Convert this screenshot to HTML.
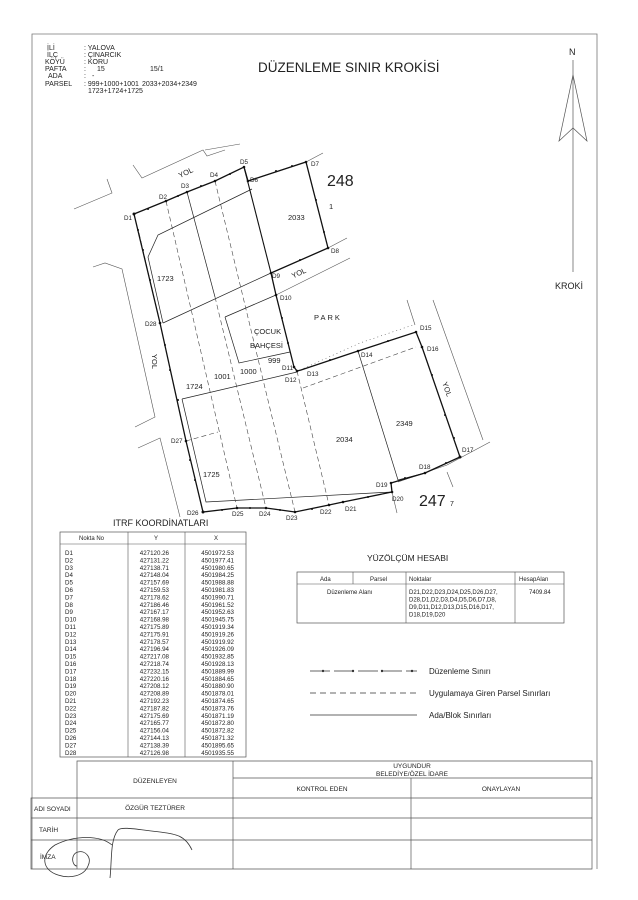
<!DOCTYPE html>
<html><head><meta charset="utf-8"><style>
html,body{margin:0;padding:0;background:#fff}
svg{display:block}
text{font-family:"Liberation Sans",sans-serif;fill:#222}
</style></head><body>
<svg width="638" height="900" viewBox="0 0 638 900" xmlns="http://www.w3.org/2000/svg">
<rect x="0" y="0" width="638" height="900" fill="#fff"/>
<polyline points="32,869 32,34 597,34 597,869" fill="none" stroke="#777" stroke-width="0.8"/>

<g font-size="7">
<text x="47" y="50">İLİ</text><text x="84" y="50">: YALOVA</text>
<text x="47" y="57">İLÇ</text><text x="84" y="57">: ÇINARCIK</text>
<text x="45" y="64">KÖYÜ</text><text x="84" y="64">: KORU</text>
<text x="45" y="71">PAFTA</text><text x="84" y="71">:</text><text x="97" y="71">15</text><text x="150" y="71">15/1</text>
<text x="48" y="78">ADA</text><text x="84" y="78">:</text><text x="92" y="78">-</text>
<text x="45" y="86">PARSEL</text><text x="84" y="86">: 999+1000+1001</text><text x="142" y="86">2033+2034+2349</text>
<text x="88" y="93">1723+1724+1725</text>
</g>
<text x="258" y="72" font-size="13.5">DÜZENLEME SINIR KROKİSİ</text>

<text x="569" y="55" font-size="9">N</text>
<line x1="573" y1="60" x2="573" y2="272" stroke="#555" stroke-width="0.7"/>
<polygon points="573,75 559,141 573,128 587,141" fill="none" stroke="#555" stroke-width="0.7"/>
<text x="555" y="289" font-size="9">KROKİ</text>

<g fill="none" stroke="#555" stroke-width="0.6">
<polyline points="133,165 142,178 203,150 207,156 225,150"/>
<polyline points="205,150 240,144"/>
<polyline points="306,162 323,153"/>
<polyline points="74,209 112,193 107,179"/>
<polyline points="93,267 105,263 122,269 155,417 135,427"/>
<polyline points="138,448 160,438 180,517"/>
<polyline points="328,248 347,238"/>
<polyline points="276,295 350,258"/>
<polyline points="407,300 415,325"/>
<polyline points="433,300 483,440"/>
<polyline points="398,482 447,465 490,442"/>
<polyline points="447,472 453,487"/>
<polyline points="392,492 397,513"/>
<polyline points="300,370 360,343 413,325" stroke-dasharray="1,3"/>
</g>

<g fill="none" stroke="#222" stroke-width="0.7">
<polyline points="252,189 158,235 148,257 163,323"/>
<polyline points="163,323 271,273 328,248"/>
<polyline points="248,181 306,162"/>
<polyline points="225,317 276,295"/>
<polyline points="225,317 239,363 290,352"/>
<polyline points="182,399 297,372"/>
<polyline points="182,399 206,502 392,492"/>
<polyline points="358,351 398,480 425,473"/>
<polyline points="187,192 215,297"/>
</g>
<g fill="none" stroke="#444" stroke-width="0.6" stroke-dasharray="5,3">
<line x1="166" y1="201" x2="237" y2="508"/>
<line x1="215" y1="297" x2="266" y2="508"/>
<line x1="215" y1="181" x2="295" y2="512"/>
<line x1="297" y1="371" x2="329" y2="505"/>
<line x1="303" y1="388" x2="416" y2="347"/>
<line x1="186" y1="441" x2="218" y2="432"/>
<line x1="139" y1="233" x2="160" y2="323"/>
</g>

<polygon points="134,214 166,201 187,192 215,181 244,167 248,181 306,162 328,248 271,273 276,295 294,367 297,371 301,370 358,351 416,332 422,347 460,457 425,473 391,483 392,492 343,502 329,505 295,512 266,508 237,508 203,512 186,441 160,323" fill="none" stroke="#111" stroke-width="1.3"/>
<line x1="244" y1="167" x2="271" y2="273" stroke="#111" stroke-width="1.1"/>
<g fill="#111">
<circle cx="134" cy="214" r="1.5"/><circle cx="166" cy="201" r="1.3"/><circle cx="187" cy="192" r="1.3"/><circle cx="215" cy="181" r="1.3"/><circle cx="244" cy="167" r="1.3"/><circle cx="248" cy="181" r="1.3"/><circle cx="306" cy="162" r="1.3"/><circle cx="328" cy="248" r="1.3"/><circle cx="271" cy="273" r="1.3"/><circle cx="276" cy="295" r="1.3"/><circle cx="294" cy="367" r="1.3"/><circle cx="297" cy="371" r="1.3"/><circle cx="358" cy="351" r="1.3"/><circle cx="416" cy="332" r="1.3"/><circle cx="422" cy="347" r="1.3"/><circle cx="460" cy="457" r="1.5"/><circle cx="425" cy="473" r="1.3"/><circle cx="391" cy="483" r="1.3"/><circle cx="392" cy="492" r="1.3"/><circle cx="343" cy="502" r="1.3"/><circle cx="329" cy="505" r="1.3"/><circle cx="295" cy="512" r="1.3"/><circle cx="266" cy="508" r="1.3"/><circle cx="237" cy="508" r="1.3"/><circle cx="203" cy="512" r="1.5"/><circle cx="186" cy="441" r="1.3"/><circle cx="160" cy="323" r="1.3"/>
<circle cx="148" cy="209" r="1"/><circle cx="178" cy="196" r="1"/><circle cx="201" cy="186" r="1"/><circle cx="230" cy="174" r="1"/><circle cx="276" cy="171" r="1"/><circle cx="292" cy="166" r="1"/><circle cx="316" cy="200" r="1"/><circle cx="324" cy="232" r="1"/><circle cx="300" cy="260" r="1"/><circle cx="282" cy="318" r="1"/><circle cx="288" cy="343" r="1"/><circle cx="330" cy="360" r="1"/><circle cx="388" cy="341" r="1"/><circle cx="432" cy="375" r="1"/><circle cx="445" cy="415" r="1"/><circle cx="454" cy="438" r="1"/><circle cx="446" cy="463" r="1"/><circle cx="405" cy="478" r="1"/><circle cx="368" cy="497" r="1"/><circle cx="312" cy="509" r="1"/><circle cx="280" cy="510" r="1"/><circle cx="250" cy="508" r="1"/><circle cx="222" cy="510" r="1"/><circle cx="195" cy="480" r="1"/><circle cx="190" cy="460" r="1"/><circle cx="178" cy="400" r="1"/><circle cx="170" cy="370" r="1"/><circle cx="165" cy="345" r="1"/><circle cx="150" cy="280" r="1"/><circle cx="143" cy="250" r="1"/><circle cx="138" cy="230" r="1"/>
</g>

<g font-size="6.3">
<text x="124" y="220">D1</text><text x="159" y="199">D2</text><text x="181" y="188">D3</text><text x="210" y="177">D4</text><text x="240" y="164">D5</text><text x="250" y="182">D6</text><text x="311" y="166">D7</text><text x="331" y="253">D8</text><text x="272" y="278">D9</text><text x="280" y="300">D10</text><text x="282" y="370">D11</text><text x="285" y="382">D12</text><text x="307" y="376">D13</text><text x="361" y="357">D14</text><text x="420" y="330">D15</text><text x="427" y="351">D16</text><text x="462" y="452">D17</text><text x="419" y="469">D18</text><text x="376" y="487">D19</text><text x="392" y="501">D20</text><text x="345" y="511">D21</text><text x="320" y="514">D22</text><text x="286" y="520">D23</text><text x="259" y="516">D24</text><text x="232" y="516">D25</text><text x="187" y="515">D26</text><text x="171" y="443">D27</text><text x="145" y="326">D28</text>
</g>
<g font-size="7.5">
<text x="178" y="175" transform="rotate(-25 186 172)">YOL</text>
<text x="291" y="275" transform="rotate(-25 300 272)">YOL</text>
<text x="152" y="362" transform="rotate(90 156 358)">YOL</text>
<text x="440" y="390" transform="rotate(70 446 388)">YOL</text>
<text x="288" y="220">2033</text>
<text x="157" y="281">1723</text>
<text x="314" y="320" letter-spacing="2">PARK</text>
<text x="254" y="334">ÇOCUK</text>
<text x="250" y="348">BAHÇESİ</text>
<text x="268" y="363">999</text>
<text x="240" y="374">1000</text>
<text x="214" y="379">1001</text>
<text x="186" y="389">1724</text>
<text x="336" y="442">2034</text>
<text x="396" y="426">2349</text>
<text x="203" y="477">1725</text>
<text x="329" y="209">1</text>
</g>
<text x="327" y="186" font-size="16">248</text>
<text x="419" y="506" font-size="16">247</text><text x="450" y="506" font-size="7">7</text>

<text x="113" y="526" font-size="9">ITRF KOORDİNATLARI</text>
<rect x="60" y="532" width="186" height="225" fill="none" stroke="#555" stroke-width="0.7"/>
<line x1="60" y1="544" x2="246" y2="544" stroke="#555" stroke-width="0.6"/>
<line x1="128" y1="532" x2="128" y2="757" stroke="#555" stroke-width="0.6"/>
<line x1="185" y1="532" x2="185" y2="757" stroke="#555" stroke-width="0.6"/>
<g font-size="6">
<text x="79" y="540">Nokta   No</text><text x="154" y="540">Y</text><text x="214" y="540">X</text>
</g>
<g font-size="6.2">
<text x="65" y="555">D1<tspan x="65" dy="7.4">D2</tspan><tspan x="65" dy="7.4">D3</tspan><tspan x="65" dy="7.4">D4</tspan><tspan x="65" dy="7.4">D5</tspan><tspan x="65" dy="7.4">D6</tspan><tspan x="65" dy="7.4">D7</tspan><tspan x="65" dy="7.4">D8</tspan><tspan x="65" dy="7.4">D9</tspan><tspan x="65" dy="7.4">D10</tspan><tspan x="65" dy="7.4">D11</tspan><tspan x="65" dy="7.4">D12</tspan><tspan x="65" dy="7.4">D13</tspan><tspan x="65" dy="7.4">D14</tspan><tspan x="65" dy="7.4">D15</tspan><tspan x="65" dy="7.4">D16</tspan><tspan x="65" dy="7.4">D17</tspan><tspan x="65" dy="7.4">D18</tspan><tspan x="65" dy="7.4">D19</tspan><tspan x="65" dy="7.4">D20</tspan><tspan x="65" dy="7.4">D21</tspan><tspan x="65" dy="7.4">D22</tspan><tspan x="65" dy="7.4">D23</tspan><tspan x="65" dy="7.4">D24</tspan><tspan x="65" dy="7.4">D25</tspan><tspan x="65" dy="7.4">D26</tspan><tspan x="65" dy="7.4">D27</tspan><tspan x="65" dy="7.4">D28</tspan></text>
<text x="169" y="555" text-anchor="end">427120.26<tspan x="169" dy="7.4">427131.22</tspan><tspan x="169" dy="7.4">427138.71</tspan><tspan x="169" dy="7.4">427148.04</tspan><tspan x="169" dy="7.4">427157.69</tspan><tspan x="169" dy="7.4">427159.53</tspan><tspan x="169" dy="7.4">427178.62</tspan><tspan x="169" dy="7.4">427186.46</tspan><tspan x="169" dy="7.4">427167.17</tspan><tspan x="169" dy="7.4">427168.98</tspan><tspan x="169" dy="7.4">427175.89</tspan><tspan x="169" dy="7.4">427175.91</tspan><tspan x="169" dy="7.4">427178.57</tspan><tspan x="169" dy="7.4">427196.94</tspan><tspan x="169" dy="7.4">427217.08</tspan><tspan x="169" dy="7.4">427218.74</tspan><tspan x="169" dy="7.4">427232.15</tspan><tspan x="169" dy="7.4">427220.16</tspan><tspan x="169" dy="7.4">427208.12</tspan><tspan x="169" dy="7.4">427208.89</tspan><tspan x="169" dy="7.4">427192.23</tspan><tspan x="169" dy="7.4">427187.82</tspan><tspan x="169" dy="7.4">427175.69</tspan><tspan x="169" dy="7.4">427165.77</tspan><tspan x="169" dy="7.4">427156.04</tspan><tspan x="169" dy="7.4">427144.13</tspan><tspan x="169" dy="7.4">427138.39</tspan><tspan x="169" dy="7.4">427126.98</tspan></text>
<text x="234" y="555" text-anchor="end">4501972.53<tspan x="234" dy="7.4">4501977.41</tspan><tspan x="234" dy="7.4">4501980.65</tspan><tspan x="234" dy="7.4">4501984.25</tspan><tspan x="234" dy="7.4">4501988.88</tspan><tspan x="234" dy="7.4">4501981.83</tspan><tspan x="234" dy="7.4">4501990.71</tspan><tspan x="234" dy="7.4">4501961.52</tspan><tspan x="234" dy="7.4">4501952.63</tspan><tspan x="234" dy="7.4">4501945.75</tspan><tspan x="234" dy="7.4">4501919.34</tspan><tspan x="234" dy="7.4">4501919.26</tspan><tspan x="234" dy="7.4">4501919.92</tspan><tspan x="234" dy="7.4">4501926.09</tspan><tspan x="234" dy="7.4">4501932.85</tspan><tspan x="234" dy="7.4">4501928.13</tspan><tspan x="234" dy="7.4">4501889.99</tspan><tspan x="234" dy="7.4">4501884.65</tspan><tspan x="234" dy="7.4">4501880.90</tspan><tspan x="234" dy="7.4">4501878.01</tspan><tspan x="234" dy="7.4">4501874.65</tspan><tspan x="234" dy="7.4">4501873.76</tspan><tspan x="234" dy="7.4">4501871.19</tspan><tspan x="234" dy="7.4">4501872.80</tspan><tspan x="234" dy="7.4">4501872.82</tspan><tspan x="234" dy="7.4">4501871.32</tspan><tspan x="234" dy="7.4">4501895.65</tspan><tspan x="234" dy="7.4">4501935.55</tspan></text>
</g>

<text x="367" y="561" font-size="8.5">YÜZÖLÇÜM HESABI</text>
<rect x="297" y="572" width="267" height="51" fill="none" stroke="#555" stroke-width="0.7"/>
<line x1="297" y1="584" x2="564" y2="584" stroke="#555" stroke-width="0.6"/>
<line x1="353" y1="572" x2="353" y2="584" stroke="#555" stroke-width="0.6"/>
<line x1="406" y1="572" x2="406" y2="623" stroke="#555" stroke-width="0.6"/>
<line x1="515" y1="572" x2="515" y2="623" stroke="#555" stroke-width="0.6"/>
<g font-size="6">
<text x="320" y="581">Ada</text><text x="370" y="581">Parsel</text><text x="409" y="581">Noktalar</text><text x="519" y="581">HesapAlan</text>
<text x="327" y="594">Düzenleme Alanı</text><text x="529" y="594">7409.84</text>
<text x="409" y="594">D21,D22,D23,D24,D25,D26,D27,<tspan x="409" dy="7.5">D28,D1,D2,D3,D4,D5,D6,D7,D8,</tspan><tspan x="409" dy="7.5">D9,D11,D12,D13,D15,D16,D17,</tspan><tspan x="409" dy="7.5">D18,D19,D20</tspan></text>
</g>

<g stroke="#333" stroke-width="0.8" fill="none">
<line x1="310" y1="671" x2="417" y2="671" stroke-dasharray="20,4"/>
<line x1="310" y1="693" x2="417" y2="693" stroke-dasharray="6,4"/>
<line x1="310" y1="715" x2="417" y2="715"/>
</g>
<g fill="#333"><circle cx="323" cy="671" r="1.2"/><circle cx="353" cy="671" r="1.2"/><circle cx="382" cy="671" r="1.2"/><circle cx="412" cy="671" r="1.2"/></g>
<g font-size="8">
<text x="429" y="674">Düzenleme Sınırı</text>
<text x="429" y="696">Uygulamaya Giren Parsel Sınırları</text>
<text x="429" y="718">Ada/Blok Sınırları</text>
</g>

<g stroke="#555" stroke-width="0.7" fill="none">
<polyline points="77,798 77,761 592,761 592,869 31,869 31,798 592,798"/>
<line x1="233" y1="761" x2="233" y2="869"/>
<line x1="233" y1="778" x2="592" y2="778"/>
<line x1="411" y1="778" x2="411" y2="869"/>
<line x1="77" y1="798" x2="77" y2="869"/>
<line x1="31" y1="818" x2="592" y2="818"/>
<line x1="31" y1="840" x2="592" y2="840"/>
</g>
<g font-size="6.5">
<text x="155" y="783" text-anchor="middle">DÜZENLEYEN</text>
<text x="412" y="768" text-anchor="middle">UYGUNDUR</text>
<text x="412" y="776" text-anchor="middle">BELEDİYE/ÖZEL İDARE</text>
<text x="322" y="791" text-anchor="middle">KONTROL EDEN</text>
<text x="501" y="791" text-anchor="middle">ONAYLAYAN</text>
<text x="34" y="811">ADI SOYADI</text>
<text x="155" y="810" text-anchor="middle">ÖZGÜR TEZTÜRER</text>
<text x="39" y="832">TARİH</text>
<text x="40" y="859">İMZA</text>
</g>
<path d="M77,866 C72,866 70,854 78,852 C86,850 92,858 88,866 C84,876 70,879 58,875 C42,870 40,855 55,845 C75,835 100,835 112,845 M110,878 C112,860 110,840 118,830 C122,826 140,830 160,832 C175,834 185,835 192,850" fill="none" stroke="#333" stroke-width="0.8"/>
</svg>
</body></html>
